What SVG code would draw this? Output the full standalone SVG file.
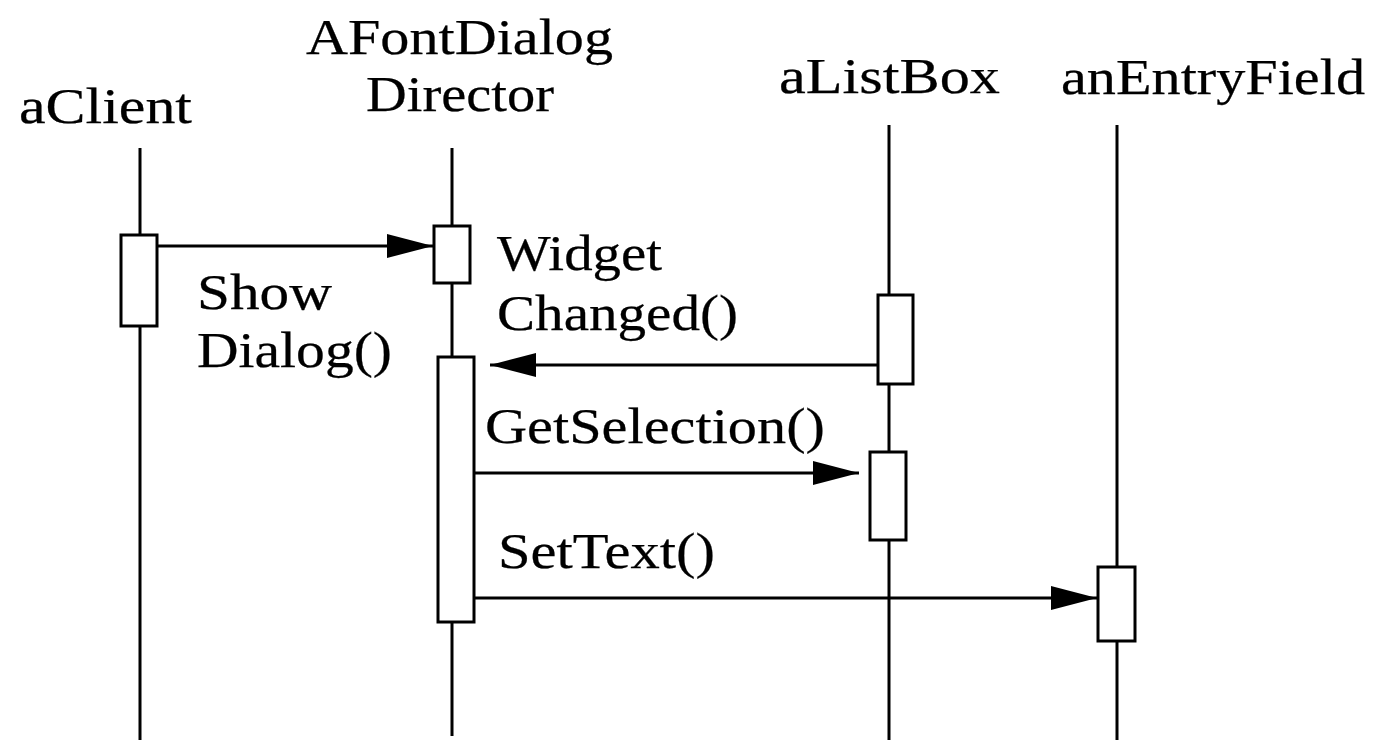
<svg xmlns="http://www.w3.org/2000/svg" width="1375" height="740" viewBox="0 0 1375 740">
<style>
.life{stroke:#000;stroke-width:3;fill:none}
.act{stroke:#000;stroke-width:3;fill:#fff}
.msg{stroke:#000;stroke-width:3;fill:none;marker-end:url(#head)}
text{font-family:"Liberation Serif","Times New Roman",serif;font-size:50px;fill:#000;stroke:#000;stroke-width:0.25}
</style>
<defs>
<marker id="head" markerUnits="userSpaceOnUse" markerWidth="48" markerHeight="26" refX="46" refY="12" orient="auto">
<path d="M0 0 L46 12 L0 24 Z" fill="#000"/>
</marker>
</defs>
<rect width="1375" height="740" fill="#fff"/>
<g id="aClient">
<line class="life" x1="140" y1="148" x2="140" y2="740"/>
<rect class="act" x="121" y="235" width="36" height="91"/>
<text x="19" y="123" textLength="173" lengthAdjust="spacingAndGlyphs">aClient</text>
</g>
<g id="director">
<line class="life" x1="452" y1="148" x2="452" y2="736"/>
<rect class="act" x="434" y="226" width="36" height="57"/>
<rect class="act" x="438" y="357" width="36" height="265"/>
<text x="306" y="54" textLength="307" lengthAdjust="spacingAndGlyphs">AFontDialog</text>
<text x="366" y="111" textLength="188" lengthAdjust="spacingAndGlyphs">Director</text>
</g>
<g id="aListBox">
<line class="life" x1="889" y1="125" x2="889" y2="740"/>
<rect class="act" x="878" y="295" width="35" height="89"/>
<rect class="act" x="870" y="452" width="36" height="88"/>
<text x="779" y="93" textLength="221" lengthAdjust="spacingAndGlyphs">aListBox</text>
</g>
<g id="anEntryField">
<line class="life" x1="1117" y1="125" x2="1117" y2="740"/>
<rect class="act" x="1098" y="567" width="37" height="74"/>
<text x="1061" y="94" textLength="304" lengthAdjust="spacingAndGlyphs">anEntryField</text>
</g>
<g id="connectors">
<line class="msg" x1="157" y1="246" x2="433" y2="246"/>
<line class="msg" x1="878" y1="365" x2="490" y2="365"/>
<line class="msg" x1="474" y1="473" x2="859" y2="473"/>
<line class="msg" x1="474" y1="598" x2="1097" y2="598"/>
</g>
<g id="labels">
<text x="197" y="309" textLength="135" lengthAdjust="spacingAndGlyphs">Show</text>
<text x="197" y="367" textLength="195" lengthAdjust="spacingAndGlyphs">Dialog()</text>
<text x="497" y="270" textLength="165" lengthAdjust="spacingAndGlyphs">Widget</text>
<text x="497" y="330" textLength="241" lengthAdjust="spacingAndGlyphs">Changed()</text>
<text x="485" y="443" textLength="340" lengthAdjust="spacingAndGlyphs">GetSelection()</text>
<text x="498" y="568" textLength="217" lengthAdjust="spacingAndGlyphs">SetText()</text>
</g>
</svg>
